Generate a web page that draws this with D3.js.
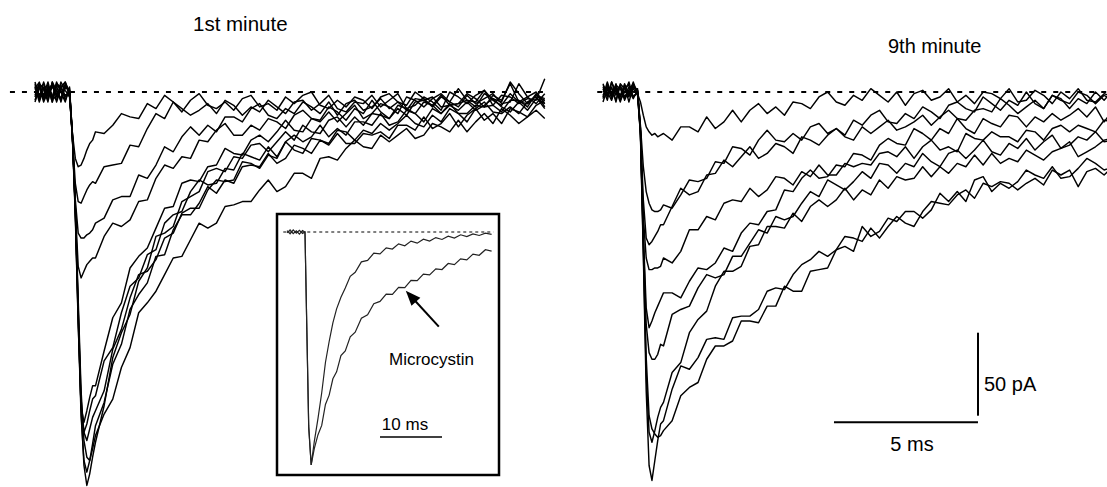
<!DOCTYPE html>
<html><head><meta charset="utf-8">
<script src="https://cdn.jsdelivr.net/npm/d3@7/dist/d3.min.js"></script>
<style>
body{margin:0;background:#fff}
svg{display:block}
text{font-family:"Liberation Sans",Arial,sans-serif;fill:#000}
</style>
</head><body>
<svg id="chart" width="1107" height="487"></svg>
<script>
// ---------- DATA ----------
// shared sample times (ms) for the two main panels
const timeMs = [0,0.15,0.3,0.45,0.6,0.75,0.9,1.05,1.2,
  1.3,1.4,1.5,1.6,1.7,1.8,1.9,2.0,
  2.1,2.4,2.7,3.0,3.3,3.6,3.9,4.2,4.5,4.8,5.1,5.4,5.7,6.0,6.3,6.6,6.9,7.2,7.5,7.8,
  8.1,8.4,8.7,9.0,9.3,9.6,9.9,10.2,10.5,10.8,11.1,11.4,11.7,12.0,12.3,12.6,12.9,13.2,
  13.5,13.8,14.1,14.4,14.7,15.0,15.3,15.6,15.9,16.2,16.5,16.8,17.1,17.4,17.7];

// 1st minute traces (pA)
const min1A = [4,-5,6,-2,5,-6,2,6,0, -25,-40,-45,-44,-40,-35,-31,-29,
  -24,-25,-20,-13,-15,-16,-7,-10,-2,-6,-12,-5,-1,-8,-10,-6,-11,-4,-2,-9,-7,-11,-3,-7,-2,0,-8,-10,-5,-9,-3,-5,-10,-3,-1,-6,-8,0,-4,-9,-3,-6,2,-5,-9,-1,-4,-6,6,-1,-7,-2,-5];
const min1B = [-5,3,-2,6,-4,4,-6,3,1, -28,-55,-66,-67,-63,-59,-56,-54,
  -55,-45,-44,-43,-32,-33,-22,-13,-16,-6,-10,-14,-11,-7,-13,-5,-8,-14,-9,-12,-5,-9,-13,-6,-5,-11,-7,-2,-10,-12,-6,-7,-2,-9,-5,-1,-10,-8,-3,-6,-11,0,-3,-7,-2,1,-5,-8,-1,-6,-3,0,-7];
const min1C = [2,6,-4,3,-6,5,3,-3,-1, -28,-65,-85,-88,-88,-86,-85,-83,
  -79,-76,-65,-63,-63,-50,-52,-44,-33,-36,-27,-21,-26,-20,-24,-15,-15,-18,-10,-7,-14,-16,-10,-13,-6,-9,-13,-6,-14,-7,-5,-11,-9,-4,-10,-6,-11,-4,-5,-8,-2,-8,-7,-1,-4,-9,-2,-5,5,-6,-7,-2,-4];
const min1D = [-3,5,2,-6,6,-2,4,-5,2, -28,-70,-105,-112,-108,-104,-102,-100,
  -100,-87,-79,-81,-77,-66,-65,-52,-44,-46,-39,-40,-29,-30,-23,-19,-26,-26,-20,-23,-16,-18,-22,-14,-11,-16,-17,-9,-12,-17,-10,-13,-5,-12,-16,-8,-10,-13,-6,-8,-13,-8,-11,-6,-11,-8,-4,-9,-12,-6,-11,-4,-7];
const min1E = [5,-2,3,-5,6,1,-4,5,-2, -28,-75,-140,-190,-199,-192,-184,-177,
  -177,-156,-136,-127,-106,-99,-94,-82,-70,-69,-55,-53,-54,-45,-44,-34,-37,-38,-29,-26,-30,-24,-17,-23,-24,-16,-18,-12,-18,-13,-8,-16,-13,-7,-9,-13,-3,-5,-9,-4,-1,-6,-9,-2,-7,-4,-1,-7,-6,5,-3,-7,-1];
const min1F = [-2,5,-5,2,-3,6,0,-6,3, -27,-72,-135,-190,-205,-200,-192,-185,
  -183,-162,-154,-133,-117,-112,-98,-95,-79,-74,-72,-60,-53,-56,-55,-46,-47,-37,-39,-41,-33,-39,-30,-26,-30,-27,-20,-27,-22,-26,-18,-18,-20,-13,-20,-18,-11,-13,-18,-10,-13,-7,-13,-13,-8,-9,-8,-12,-5,-5,-9,-1,-9];
const min1G = [3,-6,2,4,-2,-5,6,1,-3, -26,-70,-130,-185,-205,-210,-203,-196,
  -192,-180,-155,-143,-124,-110,-108,-101,-88,-85,-73,-70,-70,-59,-53,-54,-53,-42,-43,-46,-38,-40,-30,-35,-37,-28,-29,-31,-23,-24,-29,-23,-25,-19,-23,-19,-14,-19,-21,-14,-18,-10,-13,-18,-10,-6,-12,-13,-9,-13,-6,-3,-10];
const min1H = [-6,2,5,-3,3,0,-5,4,1, -25,-68,-125,-180,-210,-220,-222,-215,
  -207,-194,-185,-166,-154,-133,-127,-120,-110,-100,-99,-89,-79,-82,-79,-69,-68,-66,-66,-59,-53,-60,-57,-49,-49,-52,-40,-39,-41,-34,-29,-33,-34,-26,-30,-26,-22,-28,-26,-19,-21,-24,-17,-24,-18,-13,-19,-10,-14,-19,-15,-11,-16];
const min1I = [6,-3,-2,3,-6,4,2,-2,0, -27,-73,-138,-195,-222,-229,-222,-212,
  -201,-187,-164,-152,-131,-122,-115,-99,-98,-83,-74,-74,-67,-57,-61,-53,-55,-45,-44,-45,-37,-43,-40,-32,-34,-37,-29,-32,-25,-31,-31,-25,-26,-24,-28,-20,-20,-23,-15,-22,-19,-13,-21,-14,-10,-17,-13,-19,-10,-12,-15,-8,-5];
const min1J = [1,4,-6,0,5,-3,3,6,-2, -26,-70,-132,-192,-225,-237,-230,-220,
  -211,-189,-160,-145,-134,-114,-106,-87,-85,-81,-66,-63,-60,-48,-46,-48,-39,-40,-32,-31,-36,-30,-24,-29,-20,-24,-25,-17,-15,-21,-15,-20,-13,-14,-16,-10,-14,-6,-5,-3,-9,-8,-7,-5,-6,1,-8,-2,-3,-7,-4,-5,8];

// 9th minute traces (pA)
const min9A = [3,-3,6,-2,4,-5,1,5,-1, -6,-14,-21,-24,-26,-25,-27,-26,
  -25,-29,-21,-21,-24,-15,-22,-18,-11,-18,-11,-7,-13,-9,-14,-6,-7,-10,-3,0,-6,-8,-2,-5,2,-2,-6,0,-8,-1,1,-5,-3,2,-6,-2,-7,0,-1,-4,2,-6,-5,1,-2,-7,0,-4,2,-5,-6,-1,-3];
const min9B = [-4,5,-4,2,-2,4,-6,3,0, -20,-45,-60,-67,-71,-72,-72,-71,
  -68,-70,-62,-53,-54,-52,-42,-43,-33,-34,-38,-29,-23,-29,-30,-25,-29,-21,-19,-25,-22,-26,-17,-20,-14,-11,-18,-19,-13,-16,-9,-12,-16,-8,-6,-10,-12,-3,-7,-11,-5,-8,0,-7,-10,-2,-5,-7,0,-2,-7,-2,-5];
const min9C = [5,-2,3,-6,5,2,-3,4,1, -22,-65,-88,-92,-90,-87,-84,-80,
  -80,-69,-58,-62,-60,-50,-49,-41,-45,-39,-33,-40,-37,-31,-33,-37,-27,-29,-32,-26,-22,-27,-29,-21,-25,-21,-17,-23,-21,-18,-14,-20,-15,-11,-16,-17,-11,-10,-12,-4,-8,-13,-9,-5,-10,-2,-4,-10,-4,-7,0,-5,1];
const min9D = [-2,3,-3,5,-5,0,6,-3,0, -22,-75,-100,-107,-107,-106,-106,-105,
  -100,-103,-96,-83,-83,-75,-77,-67,-65,-66,-58,-63,-59,-51,-52,-56,-48,-51,-44,-50,-50,-43,-45,-43,-44,-37,-36,-39,-33,-40,-33,-29,-35,-33,-36,-25,-28,-29,-24,-27,-27,-30,-23,-24,-29,-22,-20,-24,-20,-22,-24,-17,-18];
const min9E = [2,-5,6,0,-3,3,-2,6,-1, -24,-85,-130,-142,-138,-133,-129,-125,
  -121,-121,-124,-114,-106,-107,-103,-94,-96,-85,-79,-80,-72,-71,-59,-60,-52,-47,-52,-51,-44,-45,-37,-38,-41,-32,-28,-31,-32,-22,-25,-29,-22,-25,-16,-22,-25,-16,-19,-21,-14,-15,-21,-15,-18,-13,-17,-14,-10,-15,-9,-18,-11];
const min9F = [-6,2,-1,4,2,-4,3,0,2, -24,-88,-140,-157,-161,-161,-158,-152,
  -153,-134,-131,-129,-118,-110,-112,-110,-99,-99,-91,-83,-85,-75,-77,-75,-67,-60,-63,-53,-56,-59,-54,-48,-52,-43,-44,-49,-43,-45,-37,-42,-45,-37,-35,-40,-35,-29,-36,-38,-31,-34,-28,-35,-30,-26,-34,-32,-27,-29,-24,-30,-29];
const min9G = [4,0,-5,3,-3,5,-1,2,-2, -25,-95,-170,-205,-211,-204,-196,-190,
  -187,-169,-163,-145,-137,-132,-117,-108,-108,-105,-93,-92,-81,-81,-82,-73,-78,-69,-65,-69,-65,-58,-65,-59,-62,-53,-58,-51,-53,-52,-45,-51,-45,-49,-43,-45,-38,-44,-37,-43,-40,-42,-35,-38,-41,-36,-34,-30,-39,-36,-33,-29,-28];
const min9H = [0,3,2,-5,4,-3,1,-4,1, -24,-90,-160,-195,-203,-206,-208,-207,
  -204,-198,-183,-178,-175,-161,-153,-153,-150,-138,-138,-139,-129,-129,-117,-120,-120,-108,-107,-106,-95,-93,-96,-81,-87,-84,-76,-78,-72,-72,-76,-71,-61,-66,-60,-66,-53,-51,-60,-55,-58,-54,-47,-50,-52,-45,-52,-51,-46,-40,-43,-47,-45];
const min9I = [-3,6,-2,1,-6,3,4,-3,0, -26,-98,-180,-225,-234,-222,-210,-200,
  -198,-179,-165,-167,-160,-149,-148,-149,-136,-135,-135,-131,-120,-118,-119,-110,-104,-101,-96,-99,-95,-87,-88,-90,-82,-88,-81,-75,-79,-81,-72,-66,-67,-68,-62,-59,-64,-55,-57,-54,-55,-59,-55,-52,-56,-47,-50,-47,-57,-48,-46,-50,-45];

// inset: normalised traces (% of peak amplitude)
const insetTime = [0,0.5,1,1.5,2,2.5,2.9,3.2,3.5,3.9,4.4,5,5.6,6.2,6.8,7.4,8,8.7,9.4,10.2,
  11,12,13,14,15,16,17,18,19,20,21,22,23,24,25,26,27,28,29,30,31,32,33];
const insetControl = [0.6,-0.8,0.9,-0.5,0.7,-0.6,0,-42,-83,-100,
  -90,-80,-69,-56,-47,-39,-33,-28,-24,-19,
  -17.3,-12.8,-12.2,-9.1,-9.4,-6.8,-7.3,-5.1,-5.9,-3.9,-4.8,-3.1,-3.9,-2.4,-3.2,-1.8,-2.6,-1.2,-2.0,-0.8,-1.5,-0.5,-1.0];
const insetMicrocystin = [-0.4,0.9,-0.7,0.5,-0.9,0.6,0,-42,-84,-100,
  -93,-87,-83,-74,-70,-63,-60,-53,-51,-45,
  -43,-37,-35.5,-30.8,-29.8,-26.7,-26.8,-23.8,-23.9,-20.8,-20.9,-18.1,-18.4,-15.8,-16.1,-13.5,-14,-11.5,-12,-9.5,-10,-7.6,-8.2];

const panelTitles = ["1st minute", "9th minute"];
const scaleBarTime = 5;      // ms
const scaleBarCurrent = 50;  // pA
const insetBarTime = 10;     // ms
const arrowLabel = "Microcystin";
const arrowTargetTime = 19;  // ms, point on the Microcystin trace

const min1Traces = [min1A,min1B,min1C,min1D,min1E,min1F,min1G,min1H,min1I,min1J];
const min9Traces = [min9A,min9B,min9C,min9D,min9E,min9F,min9G,min9H,min9I];

// ---------- DRAWING ----------
const svg = d3.select("#chart");
const PX_MS = 28.8, PX_PA = 1.66, BASE_Y = 92;
const y = d3.scaleLinear().domain([0, -240]).range([BASE_Y, BASE_Y + 240 * PX_PA]);
const xL = d3.scaleLinear().domain([0, 17.7]).range([35, 35 + 17.7 * PX_MS]);
const xR = d3.scaleLinear().domain([0, 17.7]).range([603, 603 + 17.7 * PX_MS]);

function panel(traces, x, dashFrom, dashTo) {
  const g = svg.append("g");
  g.append("line")
    .attr("x1", x(dashFrom)).attr("x2", x(dashTo))
    .attr("y1", y(0)).attr("y2", y(0))
    .attr("stroke", "#000").attr("stroke-width", 2)
    .attr("stroke-dasharray", "5,7");
  const line = d3.line().x((d, i) => x(timeMs[i])).y(d => y(d));
  g.selectAll("path.trace").data(traces).join("path")
    .attr("class", "trace")
    .attr("d", line)
    .attr("fill", "none").attr("stroke", "#000")
    .attr("stroke-width", 1.45).attr("stroke-linejoin", "round");
  return g;
}
panel(min1Traces, xL, -0.87, 17.8);
panel(min9Traces, xR, -0.2, 17.8);

// titles
svg.append("text").attr("x", 193).attr("y", 31).attr("font-size", 20.5).text(panelTitles[0]);
svg.append("text").attr("x", 888).attr("y", 53).attr("font-size", 20).text(panelTitles[1]);

// scale bars (right panel)
const sbT0 = 8.02, sbY = -199;
svg.append("line").attr("x1", xR(sbT0)).attr("x2", xR(sbT0 + scaleBarTime))
  .attr("y1", y(sbY)).attr("y2", y(sbY)).attr("stroke", "#000").attr("stroke-width", 2);
svg.append("line").attr("x1", xR(sbT0 + scaleBarTime)).attr("x2", xR(sbT0 + scaleBarTime))
  .attr("y1", y(-145)).attr("y2", y(-145 - scaleBarCurrent)).attr("stroke", "#000").attr("stroke-width", 2);
svg.append("text").attr("x", xR(sbT0 + scaleBarTime) + 6).attr("y", 391).attr("font-size", 20)
  .text(scaleBarCurrent + " pA");
svg.append("text").attr("x", xR(sbT0 + scaleBarTime / 2) + 6).attr("y", 451).attr("font-size", 20)
  .attr("text-anchor", "middle").text(scaleBarTime + " ms");

// inset
const ix = d3.scaleLinear().domain([0, 33]).range([287, 287 + 33 * 6.2]);
const iy = d3.scaleLinear().domain([0, -100]).range([232, 465]);
const ins = svg.append("g");
ins.append("rect").attr("x", 277).attr("y", 214).attr("width", 222).attr("height", 261)
  .attr("fill", "#fff").attr("stroke", "#000").attr("stroke-width", 2.5);
ins.append("line").attr("x1", ix(-0.6)).attr("x2", ix(33.3)).attr("y1", iy(0)).attr("y2", iy(0))
  .attr("stroke", "#000").attr("stroke-width", 1).attr("stroke-dasharray", "3,3");
const iline = d3.line().x((d, i) => ix(insetTime[i])).y(d => iy(d));
ins.selectAll("path.itrace").data([insetControl, insetMicrocystin]).join("path")
  .attr("class", "itrace").attr("d", iline)
  .attr("fill", "none").attr("stroke", "#222").attr("stroke-width", 1.2);

// arrow to the Microcystin trace
const ti = insetTime.indexOf(arrowTargetTime);
const tipX = ix(arrowTargetTime) + 1, tipY = iy(insetMicrocystin[ti]) + 3;
const tailX = tipX + 33, tailY = tipY + 36;
const ang = Math.atan2(tipY - tailY, tipX - tailX);
const hl = 15, hw = 6;
ins.append("line").attr("x1", tailX).attr("y1", tailY)
  .attr("x2", tipX - Math.cos(ang) * hl * 0.8).attr("y2", tipY - Math.sin(ang) * hl * 0.8)
  .attr("stroke", "#000").attr("stroke-width", 2);
const bx = tipX - Math.cos(ang) * hl, by = tipY - Math.sin(ang) * hl;
ins.append("path").attr("d", d3.line()([
  [tipX, tipY],
  [bx + Math.sin(ang) * hw, by - Math.cos(ang) * hw],
  [bx - Math.sin(ang) * hw, by + Math.cos(ang) * hw]
]) + "Z").attr("fill", "#000");
ins.append("text").attr("x", 389).attr("y", 365).attr("font-size", 17).text(arrowLabel);

// inset time bar
ins.append("line").attr("x1", ix(15)).attr("x2", ix(15 + insetBarTime)).attr("y1", 437).attr("y2", 437)
  .attr("stroke", "#000").attr("stroke-width", 1.5);
ins.append("text").attr("x", ix(15 + insetBarTime / 2) - 6).attr("y", 430).attr("font-size", 17)
  .attr("text-anchor", "middle").text(insetBarTime + " ms");
</script>
</body></html>
